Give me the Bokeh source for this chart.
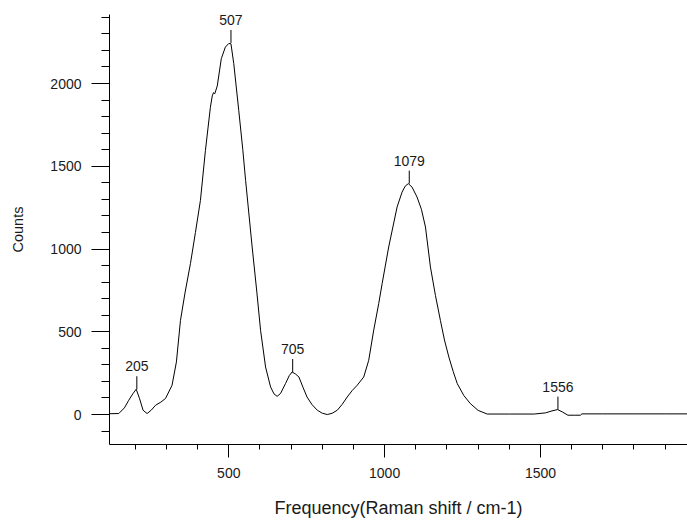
from bokeh.plotting import figure
from bokeh.models import SingleIntervalTicker, ColumnDataSource
from bokeh.embed import file_html
from bokeh.resources import INLINE
from bokeh.core.properties import value

# ---- data ----
wavenumber = [117, 147, 165, 179, 192, 203, 214, 225, 238, 252, 265, 282, 297, 318, 332,
              345, 360, 377, 393, 409, 425, 441, 447, 451, 455, 463, 476, 489, 500, 507,
              516, 532, 545, 554, 575, 590, 602, 618, 634, 645, 655, 666, 682, 694, 703,
              714, 725, 738, 751, 767, 784, 800, 816, 832, 848, 864, 880, 896, 912, 933,
              949, 965, 981, 992, 1013, 1040, 1056, 1066, 1076, 1088, 1104, 1118, 1131,
              1147, 1163, 1179, 1192, 1206, 1220, 1233, 1254, 1275, 1300, 1329, 1400,
              1480, 1516, 1537, 1555, 1570, 1588, 1610, 1628, 1633, 1700, 1800, 1900, 1972]
counts = [5, 6, 40, 86, 125, 153, 95, 26, 6, 28, 56, 75, 97, 177, 318,
          569, 740, 912, 1100, 1293, 1595, 1857, 1925, 1945, 1938, 1985, 2150, 2220, 2242, 2240,
          2120, 1837, 1600, 1414, 1012, 740, 509, 287, 167, 125, 110, 127, 187, 235, 257,
          245, 227, 165, 106, 60, 26, 8, 0, 8, 26, 62, 106, 145, 177, 227,
          328, 510, 670, 791, 1012, 1254, 1344, 1380, 1395, 1374, 1314, 1240, 1133,
          891, 720, 568, 450, 348, 260, 187, 115, 66, 25, 3, 3,
          3, 10, 22, 30, 16, -4, -4, -4, 4, 4, 4, 4, 4]
assert len(wavenumber) == len(counts)

peak_x = [205, 507, 705, 1079, 1556]
peak_y = [153, 2245, 257, 1395, 30]
peak_labels = ["205", "507", "705", "1079", "1556"]

x_title = "Frequency(Raman shift / cm-1)"
y_title = "Counts"

# ---- layout ----
X0, X1 = 117.3, 1971.7
Y0, Y1 = -181, 2417
W, H = 687, 522
TOP, BOTTOM, LEFT, RIGHT = 14, 78, 109, 0
FONT = "Liberation Sans"

p = figure(width=W, height=H, x_range=(X0, X1), y_range=(Y0, Y1),
           output_backend="svg", toolbar_location=None,
           min_border_left=LEFT, min_border_right=RIGHT,
           min_border_top=TOP, min_border_bottom=BOTTOM)
p.outline_line_color = None
p.xgrid.grid_line_color = None
p.ygrid.grid_line_color = None
p.background_fill_color = "white"
p.border_fill_color = "white"

p.xaxis.ticker = SingleIntervalTicker(interval=500, num_minor_ticks=5)
p.yaxis.ticker = SingleIntervalTicker(interval=500, num_minor_ticks=5)

for ax in (p.xaxis[0], p.yaxis[0]):
    ax.axis_line_color = "black"
    ax.major_tick_line_color = "black"
    ax.minor_tick_line_color = "black"
    ax.major_tick_in = 0
    ax.minor_tick_in = 0
    ax.major_label_text_font = FONT
    ax.major_label_text_font_size = "14px"
    ax.major_label_text_color = "#1a1a1a"
    ax.axis_label_text_font = FONT
    ax.axis_label_text_font_style = "normal"
    ax.axis_label_text_color = "#1a1a1a"

p.yaxis.major_tick_out = 18
p.yaxis.minor_tick_out = 8
p.yaxis.major_label_standoff = 10
p.yaxis.axis_label = y_title
p.yaxis.axis_label_text_font_size = "14.5px"
p.yaxis.axis_label_standoff = 21

p.xaxis.major_tick_out = 13
p.xaxis.minor_tick_out = 5
p.xaxis.major_label_standoff = 10
p.xaxis.axis_label = x_title
p.xaxis.axis_label_text_font_size = "18px"
p.xaxis.axis_label_standoff = 17

src = ColumnDataSource(dict(x=wavenumber, y=counts))
p.line("x", "y", source=src, line_color="black", line_width=1)

# peak markers: short vertical stem plus label
frame_h = H - TOP - BOTTOM
stem = 13 * (Y1 - Y0) / frame_h
pk = ColumnDataSource(dict(x=peak_x, y=peak_y,
                           y1=[v + stem for v in peak_y], t=peak_labels))
p.segment(x0="x", y0="y", x1="x", y1="y1", source=pk, line_color="black", line_width=1)
p.text(x="x", y="y", text="t", source=pk, y_offset=-23,
       text_align="center", text_baseline="middle",
       text_font=value(FONT), text_font_size="14px", text_color="#1a1a1a")

open("out.html", "w").write(file_html(p, INLINE))
